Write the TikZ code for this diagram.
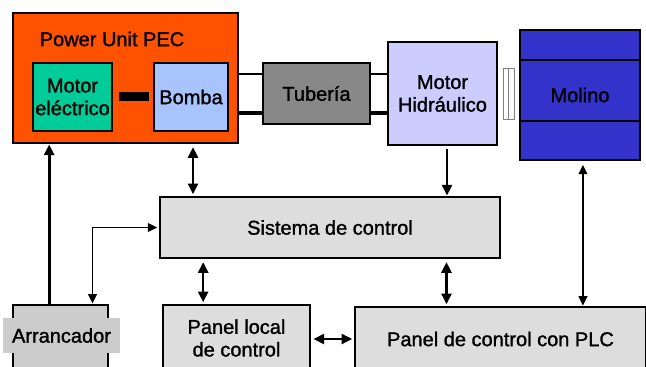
\documentclass[tikz,border=0pt]{standalone}
\usepackage{fontspec}
\setmainfont{Liberation Sans}[FakeBold=1.3]
\usetikzlibrary{arrows.meta}

\definecolor{pecorange}{RGB}{255,82,0}
\definecolor{motorgreen}{RGB}{0,204,153}
\definecolor{bombablue}{RGB}{168,196,255}
\definecolor{tubegray}{RGB}{136,136,136}
\definecolor{hidlilac}{RGB}{204,204,255}
\definecolor{molinoblue}{RGB}{51,51,204}
\definecolor{ctrlgray}{RGB}{221,221,221}
\definecolor{arrgray}{RGB}{204,204,204}

\tikzset{
  blk/.style={draw, line width=2.2pt, inner sep=0pt, align=center, font=\fontsize{15}{17}\selectfont},
  sub/.style={blk, line width=0.8pt},
  arr/.style={line width=1.9pt, -{Triangle[length=8pt,width=7.5pt]}},
  darr/.style={line width=1.9pt, {Triangle[length=8pt,width=7.5pt]}-{Triangle[length=8pt,width=7.5pt]}},
  thinarr/.style={line width=1.1pt, {Triangle[length=7pt,width=6.5pt]}-{Triangle[length=7pt,width=6.5pt]}}
}

\begin{document}
\begin{tikzpicture}[x=0.75pt,y=-0.75pt]
  \useasboundingbox (0,0) rectangle (646,367);

  % upper row
  \node[blk, fill=pecorange, minimum width=168.75pt, minimum height=97.5pt] (pec) at (125.5,78) {};
  \node[font=\fontsize{15}{17}\selectfont] (pectitle) at (112,39) {Power Unit PEC};
  \node[sub, fill=motorgreen, minimum width=59.25pt, minimum height=51pt] (motor) at (72.5,97) {Motor\\eléctrico};
  \node[sub, fill=bombablue, minimum width=55.5pt, minimum height=51pt] (bomba) at (191,97) {Bomba};
  \draw[line width=6.75pt, shorten <=4.5pt, shorten >=3pt] (motor) -- (bomba);

  \node[blk, line width=1.6pt, fill=tubegray, minimum width=80.25pt, minimum height=45.75pt] (tuberia) at (316.5,93.5) {Tubería};
  \node[blk, line width=1.8pt, fill=hidlilac, minimum width=81.75pt, minimum height=77.25pt] (mhid) at (442.5,93.5) {Motor\\Hidráulico};
  \node[draw=gray, line width=0.6pt, fill=white, minimum width=8.25pt, minimum height=38.25pt, inner sep=0pt] (acople) at (508.5,93.5) {};
  \draw[gray, line width=0.6pt] (acople.north) -- (acople.south);

  \node[blk, fill=molinoblue, minimum width=90pt, minimum height=97.5pt] (molino) at (580,95) {Molino};
  \draw[line width=2.2pt] (molino.west |- 0,60) -- (molino.east |- 0,60);
  \draw[line width=2.2pt] (molino.west |- 0,121) -- (molino.east |- 0,121);

  % stubs
  \draw[line width=1.5pt] (pec.east |- 0,74) -- (tuberia.west |- 0,74);
  \draw[line width=3pt] (pec.east |- 0,113) -- (tuberia.west |- 0,113);
  \draw[line width=1.5pt] (tuberia.east |- 0,74) -- (mhid.west |- 0,74);
  \draw[line width=3pt] (tuberia.east |- 0,113) -- (mhid.west |- 0,113);

  % lower part
  \node[blk, fill=ctrlgray, minimum width=255pt, minimum height=45.75pt] (sistema) at (330,227.5) {Sistema de control};
  \node[blk, fill=arrgray, minimum width=71.25pt, minimum height=52.5pt] (arranc) at (60.5,340) {};
  \node[fill=arrgray, inner sep=0pt, minimum width=87.75pt, minimum height=26.25pt, font=\fontsize{15}{17}\selectfont] (arranctxt) at (61.5,335.5) {Arrancador};
  \node[blk, fill=ctrlgray, minimum width=110.25pt, minimum height=49.5pt] (plocal) at (236.5,338) {Panel local\\de control};
  \node[blk, fill=ctrlgray, minimum width=218.25pt, minimum height=48pt] (plc) at (500.5,339) {Panel de control con PLC};

  % connections
  \draw[arr, line width=2.2pt] ([xshift=-8.5pt]arranc.north) -- ([xshift=-8.5pt]arranc.north |- pec.south);
  \draw[darr, shorten <=2pt, shorten >=1pt] ([xshift=1.5pt]bomba.south |- pec.south) -- ([xshift=1.5pt]bomba.south |- sistema.north);
  \draw[thinarr, shorten >=1pt] ([xshift=24pt]arranc.north) |- (sistema.west);
  \draw[arr, shorten <=2pt] ([xshift=3.4pt]mhid.south) -- ([xshift=3.4pt]mhid.south |- sistema.north);
  \draw[thinarr, line width=1.3pt, shorten <=2.5pt] ([xshift=2.2pt]molino.south) -- ([xshift=2.2pt]molino.south |- plc.north);
  \draw[darr, shorten <=2pt, shorten >=1pt] ([xshift=-25pt]plocal.north |- sistema.south) -- ([xshift=-25pt]plocal.north);
  \draw[darr, shorten <=2pt, shorten >=1pt] ([xshift=3pt]mhid.south |- sistema.south) -- ([xshift=3pt]mhid.south |- plc.north);
  \draw[darr, shorten <=1.5pt, shorten >=1pt] (plocal.east |- plc.west) -- (plc.west);
\end{tikzpicture}
\end{document}
